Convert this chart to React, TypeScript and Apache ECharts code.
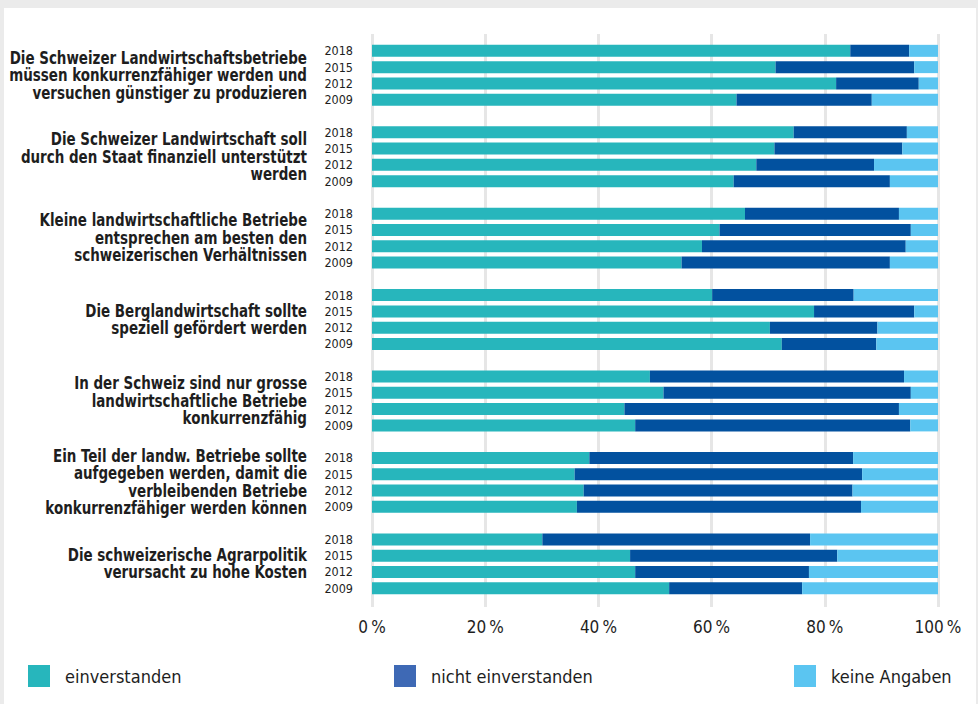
import React, { useEffect, useRef } from "react";
import * as echarts from "echarts";

// Survey years shown for each statement (top to bottom)
const YEARS = ["2018", "2015", "2012", "2009"];

const STATEMENTS = [
  "Die Schweizer Landwirtschaftsbetriebe\nmüssen konkurrenzfähiger werden und\nversuchen günstiger zu produzieren",
  "Die Schweizer Landwirtschaft soll\ndurch den Staat finanziell unterstützt\nwerden",
  "Kleine landwirtschaftliche Betriebe\nentsprechen am besten den\nschweizerischen Verhältnissen",
  "Die Berglandwirtschaft sollte\nspeziell gefördert werden",
  "In der Schweiz sind nur grosse\nlandwirtschaftliche Betriebe\nkonkurrenzfähig",
  "Ein Teil der landw. Betriebe sollte\naufgegeben werden, damit die\nverbleibenden Betriebe\nkonkurrenzfähiger werden können",
  "Die schweizerische Agrarpolitik\nverursacht zu hohe Kosten",
];

// Shares in % per statement, ordered 2018, 2015, 2012, 2009
const AGREE = [
  [84.5, 71.3, 82.0, 64.4],
  [74.5, 71.1, 67.9, 63.9],
  [65.9, 61.4, 58.3, 54.7],
  [60.1, 78.1, 70.3, 72.4],
  [49.1, 51.5, 44.6, 46.5],
  [38.4, 35.8, 37.4, 36.2],
  [30.1, 45.6, 46.5, 52.5],
];
const DISAGREE = [
  [10.4, 24.5, 14.6, 23.9],
  [20.0, 22.6, 20.8, 27.6],
  [27.2, 33.8, 36.0, 36.8],
  [25.0, 17.7, 19.0, 16.7],
  [44.9, 43.7, 48.5, 48.6],
  [46.6, 50.8, 47.5, 50.2],
  [47.3, 36.6, 30.7, 23.5],
];
const NO_ANSWER = [
  [5.1, 4.2, 3.4, 11.7],
  [5.5, 6.3, 11.3, 8.5],
  [6.9, 4.8, 5.7, 8.5],
  [14.9, 4.2, 10.7, 10.9],
  [6.0, 4.8, 6.9, 4.9],
  [15.0, 13.4, 15.1, 13.6],
  [22.6, 17.8, 22.8, 24.0],
];

const SERIES_NAMES = ["einverstanden", "nicht einverstanden", "keine Angaben"];
const X_TICKS = [0, 20, 40, 60, 80, 100];

const C_AGREE = "#27b6bc";
const C_DISAGREE = "#02519f";
const C_DISAGREE_KEY = "#3e69b5";
const C_NONE = "#5bc5f1";
const FONT = '"DejaVu Sans Condensed", "DejaVu Sans", sans-serif';
const TEXT = "#1e1e1e";

// one row per statement/year, with an empty spacer row between statements
const rows: string[] = [];
const rowValues = (src: number[][]) => {
  const out: (number | string)[] = [];
  src.forEach((vals, g) => {
    vals.forEach((v) => out.push(v));
    if (g < src.length - 1) out.push("-");
  });
  return out;
};
STATEMENTS.forEach((_, g) => {
  YEARS.forEach((y) => rows.push(`${g}|${y}`));
  if (g < STATEMENTS.length - 1) rows.push(`gap${g}`);
});

export default function App() {
  const ref = useRef<HTMLDivElement>(null);

  useEffect(() => {
    document.body.style.margin = "0";
    if (!ref.current) return;
    const chart = echarts.init(ref.current, undefined, { renderer: "svg" });

    const legendCommon = {
      top: 652,
      itemWidth: 22,
      itemHeight: 22,
      icon: "rect",
      selectedMode: false,
      textStyle: { fontSize: 18, color: TEXT, fontFamily: FONT, padding: [0, 0, 0, 10] },
    };

    chart.setOption({
      animation: false,
      textStyle: { fontFamily: FONT },
      grid: [
        { left: 368, right: 38, top: 34.7, bottom: 107.6 },
        { left: 368, right: 38, top: 26, bottom: 97 },
      ],
      legend: [
        { ...legendCommon, left: 19, data: [{ name: SERIES_NAMES[0] }] },
        {
          ...legendCommon,
          left: 385,
          data: [{ name: SERIES_NAMES[1], itemStyle: { color: C_DISAGREE_KEY } }],
        },
        { ...legendCommon, left: 785, data: [{ name: SERIES_NAMES[2] }] },
      ],
      xAxis: [
        { gridIndex: 0, type: "value", min: 0, max: 100, show: false },
        {
          gridIndex: 1,
          type: "value",
          min: 0,
          max: 100,
          interval: 20,
          axisLine: { show: false },
          axisTick: { show: false },
          splitLine: { show: true, lineStyle: { color: "#e6e6e6", width: 3 } },
          axisLabel: {
            margin: 11,
            fontSize: 17,
            color: TEXT,
            fontFamily: FONT,
            formatter: (v: number) => (X_TICKS.includes(v) ? `${v}\u2009%` : ""),
          },
        },
      ],
      yAxis: [
        {
          gridIndex: 0,
          type: "category",
          inverse: true,
          data: rows,
          axisLine: { show: false },
          axisTick: { show: false },
          axisLabel: {
            interval: 0,
            margin: 19,
            fontSize: 12.5,
            color: TEXT,
            fontFamily: FONT,
            formatter: (v: string) => (v.includes("|") ? v.split("|")[1] : ""),
          },
        },
        { gridIndex: 1, type: "value", show: false },
      ],
      series: [
        { name: SERIES_NAMES[0], data: rowValues(AGREE), color: C_AGREE },
        { name: SERIES_NAMES[1], data: rowValues(DISAGREE), color: C_DISAGREE },
        { name: SERIES_NAMES[2], data: rowValues(NO_ANSWER), color: C_NONE },
      ].map((s) => ({
        ...s,
        type: "bar",
        stack: "share",
        xAxisIndex: 0,
        yAxisIndex: 0,
        barWidth: 12,
        itemStyle: { color: s.color },
      })),
    });

    // statement texts, centred on each group of four bars (horizontally condensed)
    const x0 = chart.convertToPixel({ xAxisIndex: 0 }, 0) as number;
    const labels = STATEMENTS.map((text, g) => {
      const yTop = chart.convertToPixel({ yAxisIndex: 0 }, `${g}|${YEARS[0]}`) as number;
      const yBot = chart.convertToPixel(
        { yAxisIndex: 0 },
        `${g}|${YEARS[YEARS.length - 1]}`
      ) as number;
      return {
        type: "text",
        x: x0 - 65,
        y: (yTop + yBot) / 2,
        scaleX: 0.88,
        style: {
          text,
          align: "right",
          verticalAlign: "middle",
          fontSize: 17,
          fontWeight: "bold",
          lineHeight: 17.5,
          fill: TEXT,
          fontFamily: FONT,
        },
      };
    });
    chart.setOption({ graphic: labels });

    return () => chart.dispose();
  }, []);

  return (
    <div style={{ position: "relative", width: 978, height: 704, background: "#ebebeb" }}>
      <div
        ref={ref}
        style={{
          position: "absolute",
          left: 4,
          top: 8,
          width: 972,
          height: 696,
          background: "#ffffff",
        }}
      />
    </div>
  );
}
